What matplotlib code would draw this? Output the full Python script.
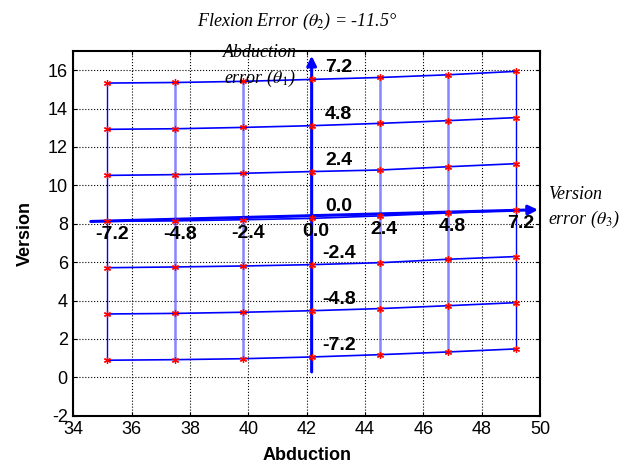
import numpy as np
import matplotlib
matplotlib.use("Agg")
import matplotlib.pyplot as plt

plt.rcParams["axes.unicode_minus"] = False
plt.rcParams["mathtext.fontset"] = "stix"

# grid of errors (deg) used for both theta1 (rows) and theta3 (columns)
errors = [-7.2, -4.8, -2.4, 0.0, 2.4, 4.8, 7.2]
error_labels = ["-7.2", "-4.8", "-2.4", "0.0", "2.4", "4.8", "7.2"]

# abduction value of each column (version error -7.2 ... 7.2)
abduction = [35.17, 37.50, 39.83, 42.17, 44.50, 46.83, 49.17]

# version values, one row per abduction error (-7.2 ... 7.2)
version_m72 = [0.89, 0.92, 0.97, 1.06, 1.18, 1.32, 1.48]
version_m48 = [3.30, 3.33, 3.39, 3.47, 3.58, 3.73, 3.89]
version_m24 = [5.71, 5.75, 5.80, 5.87, 5.97, 6.15, 6.29]
version_00 = [8.13, 8.15, 8.21, 8.28, 8.41, 8.56, 8.70]
version_p24 = [10.52, 10.56, 10.63, 10.72, 10.80, 10.97, 11.13]
version_p48 = [12.92, 12.95, 13.02, 13.11, 13.23, 13.37, 13.53]
version_p72 = [15.33, 15.36, 15.42, 15.52, 15.62, 15.76, 15.94]

rows = [version_m72, version_m48, version_m24, version_00,
        version_p24, version_p48, version_p72]
V = np.array(rows)
A = np.array(abduction)

fig = plt.figure(figsize=(6.42, 4.71), dpi=100)
ax = fig.add_axes([0.1142, 0.1174, 0.7270, 0.7743])

# vertical lines (constant version error)
for j, x in enumerate(A):
    if j == 3:
        continue
    if j in (0, 6):
        ax.plot([x, x], [V[0, j], V[-1, j]], color="blue", lw=1.0, zorder=2)
    else:
        ax.plot([x, x], [V[0, j], V[-1, j]], color="#5c5cff", lw=1.8,
                alpha=0.75, zorder=2)

# horizontal lines (constant abduction error)
for i in range(len(rows)):
    ax.plot(A, V[i], color="blue", lw=1.2, zorder=3)

# axis arrows through the zero row / column
ax.annotate("", xy=(A[3], V[-1, 3] + 1.23), xytext=(A[3], V[0, 3] - 0.78),
            arrowprops=dict(arrowstyle="-|>", color="blue", lw=2.2,
                            mutation_scale=14, shrinkA=0, shrinkB=0), zorder=4)
ax.annotate("", xy=(A[-1] + 0.76, V[3, -1] + 0.03), xytext=(A[0] - 0.57, V[3, 0] - 0.01),
            arrowprops=dict(arrowstyle="-|>", color="blue", lw=2.2,
                            mutation_scale=14, shrinkA=0, shrinkB=0), zorder=4)

# data points
for i in range(len(rows)):
    ax.plot(A, V[i], ls="none", marker=(6, 2, 0), color="red",
            markersize=5, mew=0.9, zorder=5)

bold = dict(fontsize=14, fontweight="bold", family="Liberation Sans")
for j, lab in enumerate(error_labels):
    ax.text(A[j] + 0.15, V[3, j] - 0.7, lab, ha="center", va="center", zorder=6, **bold)
for i, lab in enumerate(error_labels):
    ax.text(A[3] + 0.93, V[i, 3] + 0.6, lab, ha="center", va="center", zorder=6, **bold)

serif = dict(family="Liberation Serif", style="italic", fontsize=13)
ax.text(40.4, 16.2, "Abduction\nerror ($\\theta_1$)", ha="center", va="center",
        linespacing=1.5, zorder=7, **serif)
ax.text(50.27, 8.82, "Version\nerror ($\\theta_3$)", ha="left", va="center",
        linespacing=1.45, clip_on=False, zorder=7, **serif)

ax.set_title("Flexion Error ($\\theta_2$) = -11.5°", x=0.48, pad=18, **serif)

ax.set_xlim(34, 50)
ax.set_ylim(-2, 17)
ax.set_xticks(np.arange(34, 51, 2))
ax.set_yticks(np.arange(-2, 17, 2))
ax.grid(True, ls=":", color="black", lw=0.8)
ax.tick_params(direction="in", top=True, right=True, labelsize=13, length=3, pad=4)
for t in ax.get_xticklabels() + ax.get_yticklabels():
    t.set_family("Liberation Sans")
for s in ax.spines.values():
    s.set_linewidth(1.5)

ax.set_xlabel("Abduction", fontsize=13, fontweight="bold", family="Liberation Sans", labelpad=6)
ax.set_ylabel("Version", fontsize=13, fontweight="bold", family="Liberation Sans", labelpad=10)

fig.savefig("out.png", dpi=100)
